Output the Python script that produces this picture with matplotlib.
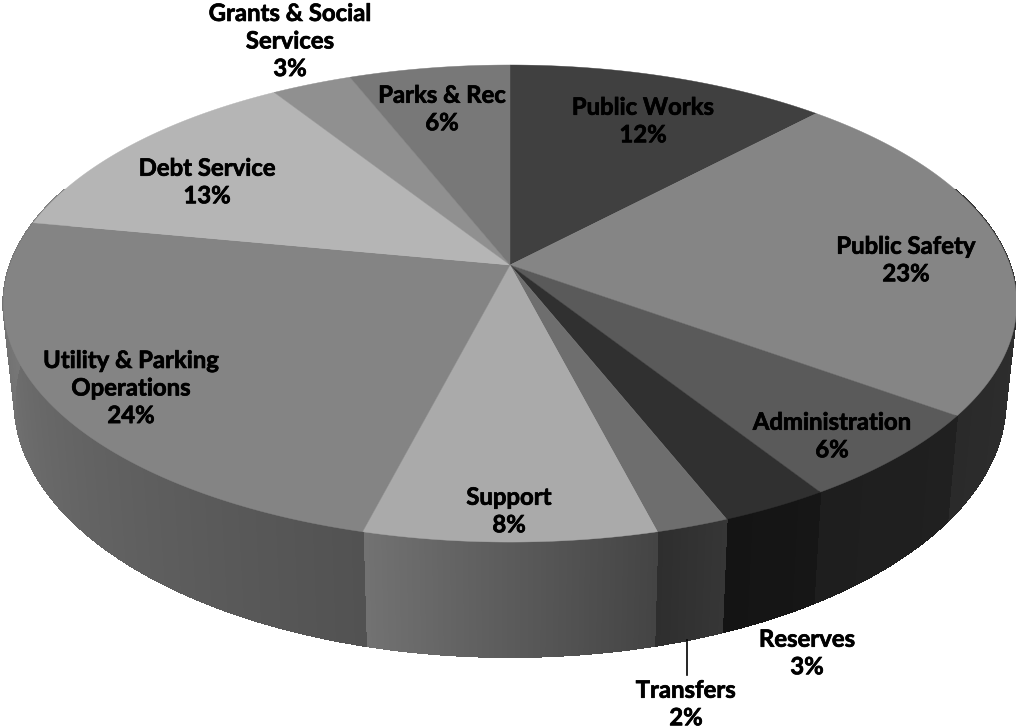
import numpy as np
import matplotlib
matplotlib.use("Agg")
import matplotlib.pyplot as plt
import matplotlib.patheffects as pe

categories = ["Public Works", "Public Safety", "Administration", "Reserves", "Transfers",
              "Support", "Utility & Parking\nOperations", "Debt Service",
              "Grants & Social\nServices", "Parks & Rec"]
shares = [12, 23, 6, 3, 2, 8, 24, 13, 3, 6]
top_grays = [0x40, 0x85, 0x5a, 0x30, 0x6e, 0xaa, 0x84, 0xb5, 0x90, 0x78]
side_start = [0x40, 0x32, 0x20, 0x16, 0x36, 0x44, 0x52, 0x80, 0x60, 0x50]
side_end = [0x40, 0x2a, 0x1e, 0x14, 0x2e, 0x72, 0x7c, 0x80, 0x60, 0x50]
label_x = [643, 906, 832, 807, 686, 509, 131, 207, 290, 442]
label_y = [121, 260, 436, 653, 704, 511, 388, 182, 41, 109]

P = 0.1615
CX, CY = 510, 265


def top_ring(theta):
    x, y = np.sin(theta), np.cos(theta)
    w = 1 + P * y
    return CX + 500 * x / w, CY - 232.3 * y / w


def bottom_ring(theta):
    x, y = np.sin(theta), np.cos(theta)
    w = 1 + P * y
    return CX + 489 * x / w, CY + 95 - 249 * y / w


fig = plt.figure(figsize=(10.16, 7.28), dpi=100, facecolor="white")
ax = fig.add_axes([0, 0, 1, 1])
ax.set_xlim(0, 1016)
ax.set_ylim(728, 0)
ax.axis("off")

edges = np.radians(np.concatenate([[0], np.cumsum(shares)]) * 3.6)

# side wall, drawn as narrow shaded strips over the visible half
for i in range(len(shares)):
    a, b = edges[i], edges[i + 1]
    lo, hi = max(a, np.radians(70)), min(b, np.radians(290))
    if hi <= lo:
        continue
    steps = max(2, int(np.degrees(hi - lo) / 0.25))
    ts = np.linspace(lo, hi, steps + 1)
    for k in range(steps):
        frac = k / max(steps - 1, 1)
        g = (side_start[i] + (side_end[i] - side_start[i]) * frac) / 255
        seg = np.linspace(ts[k], ts[k + 1], 2)
        tx, ty = top_ring(seg)
        bx, by = bottom_ring(seg)
        ax.fill(np.r_[tx, bx[::-1]], np.r_[ty, by[::-1]], color=(g, g, g), lw=0.8,
                antialiased=False, zorder=2)

# top face
for i in range(len(shares)):
    seg = np.linspace(edges[i], edges[i + 1], 200)
    tx, ty = top_ring(seg)
    g = top_grays[i] / 255
    ax.fill(np.r_[CX, tx], np.r_[CY, ty], color=(g, g, g), lw=0.3, zorder=3)

# leader line for Transfers
ax.plot([687, 687], [640, 675], color="black", lw=1.2, zorder=4)

for name, share, lx, ly in zip(categories, shares, label_x, label_y):
    ax.text(lx, ly, f"{name}\n{share}%", ha="center", va="center", family="Lato",
            fontweight="bold", fontsize=17.2, color="black", linespacing=1.24, zorder=5,
            path_effects=[pe.withStroke(linewidth=0.5, foreground="black")])

fig.savefig("out.png", dpi=100, facecolor="white")
